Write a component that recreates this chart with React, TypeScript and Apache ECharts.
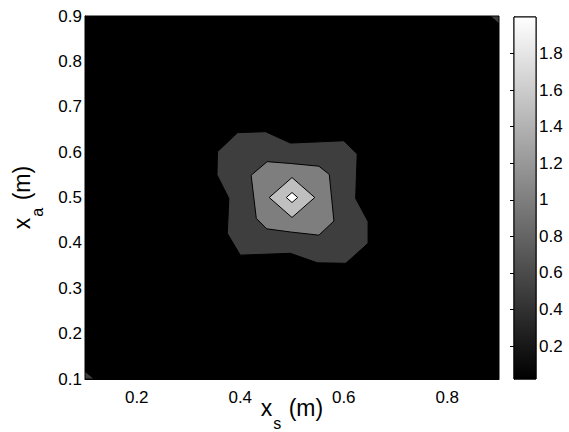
import React, { useEffect, useRef } from 'react';
import * as echarts from 'echarts';

// ---- axis ranges & ticks ----
const xRange = [0.1, 0.9];
const yRange = [0.1, 0.9];
const xTicks = [0.2, 0.4, 0.6, 0.8];
const yTicks = [0.1, 0.2, 0.3, 0.4, 0.5, 0.6, 0.7, 0.8, 0.9];

// ---- colorbar ----
const cbRange = [0.02, 2.0];
const cbTicks = [0.2, 0.4, 0.6, 0.8, 1, 1.2, 1.4, 1.6, 1.8];

// ---- contour levels (filled regions, value = lower bound of the band) ----
const baseLevel = 0;
const level1 = 0.5;
const level2 = 1.0;
const level3 = 1.5;
const level4 = 2.0;

// contour polygons [x_s, x_a]
const domain: number[][] = [
  [0.1, 0.1], [0.9, 0.1], [0.9, 0.9], [0.1, 0.9],
];
const contour05: number[][] = [
  [0.395, 0.643], [0.449, 0.645], [0.497, 0.62], [0.6, 0.625], [0.626, 0.596],
  [0.623, 0.498], [0.647, 0.447], [0.647, 0.399], [0.604, 0.355], [0.549, 0.356],
  [0.497, 0.377], [0.4, 0.373], [0.375, 0.421], [0.378, 0.498], [0.355, 0.55],
  [0.356, 0.601],
];
const corner05TopRight: number[][] = [[0.883, 0.9], [0.9, 0.9], [0.9, 0.883]];
const corner05BottomLeft: number[][] = [[0.1, 0.117], [0.1, 0.1], [0.118, 0.1]];
const contour10: number[][] = [
  [0.452, 0.579], [0.497, 0.575], [0.552, 0.569], [0.572, 0.551], [0.581, 0.448],
  [0.552, 0.417], [0.497, 0.424], [0.451, 0.431], [0.431, 0.454], [0.421, 0.549],
];
const contour15: number[][] = [[0.5, 0.544], [0.544, 0.5], [0.5, 0.456], [0.456, 0.5]];
const contour20: number[][] = [[0.5, 0.511], [0.511, 0.5], [0.5, 0.489], [0.489, 0.5]];

const polygons = [
  { level: baseLevel, pts: domain },
  { level: level1, pts: contour05 },
  { level: level1, pts: corner05TopRight },
  { level: level1, pts: corner05BottomLeft },
  { level: level2, pts: contour10 },
  { level: level3, pts: contour15 },
  { level: level4, pts: contour20 },
];

const FONT = 'Liberation Sans';

function grayOf(v: number): string {
  let t = (v - cbRange[0]) / (cbRange[1] - cbRange[0]);
  t = Math.max(0, Math.min(1, t));
  const g = Math.round(t * 255);
  return `rgb(${g},${g},${g})`;
}

const titleRich = {
  m: { fontFamily: FONT, fontSize: 23, verticalAlign: 'top', color: '#000' },
  s: {
    fontFamily: FONT, fontSize: 16, verticalAlign: 'bottom',
    padding: [19, 1, 0, 1], color: '#000',
  },
};

export default function App() {
  const ref = useRef<HTMLDivElement>(null);
  useEffect(() => {
    if (!ref.current) return;
    const chart = echarts.init(ref.current, null, { renderer: 'svg' });
    const labelStyle = { fontFamily: FONT, fontSize: 17, color: '#000' };
    chart.setOption({
      animation: false,
      backgroundColor: '#fff',
      grid: [
        {
          left: 85, top: 16, width: 414, height: 363, show: true, backgroundColor: '#000',
          borderColor: '#000', borderWidth: 1, containLabel: false, outerBoundsMode: 'none',
        },
        {
          left: 514, top: 17, width: 22, height: 362, show: true, borderColor: '#000',
          borderWidth: 1, containLabel: false, outerBoundsMode: 'none',
        },
      ],
      xAxis: [
        {
          gridIndex: 0, type: 'value', min: xRange[0], max: xRange[1],
          axisLine: { show: true, lineStyle: { color: '#000' } },
          axisTick: { show: true, inside: true, length: 5, customValues: xTicks, lineStyle: { color: '#000' } },
          axisLabel: { ...labelStyle, margin: 10, customValues: xTicks },
          splitLine: { show: false },
          name: '{m|x}{s|s}{m| (m)}',
          nameLocation: 'middle',
          nameGap: 17,
          nameMoveOverlap: false,
          nameTextStyle: { rich: titleRich },
        },
        {
          gridIndex: 1, type: 'value', min: 0, max: 1, show: false,
        },
      ],
      yAxis: [
        {
          gridIndex: 0, type: 'value', min: yRange[0], max: yRange[1],
          axisLine: { show: true, lineStyle: { color: '#000' } },
          axisTick: { show: true, inside: true, length: 5, customValues: yTicks, lineStyle: { color: '#000' } },
          axisLabel: { ...labelStyle, margin: 3, customValues: yTicks },
          splitLine: { show: false },
          name: '{m|x}{s|a}{m| (m)}',
          nameLocation: 'middle',
          nameGap: 40,
          nameMoveOverlap: false,
          nameTextStyle: { rich: titleRich },
        },
        {
          gridIndex: 1, type: 'value', min: cbRange[0], max: cbRange[1], position: 'right',
          axisLine: { show: true, lineStyle: { color: '#000' } },
          axisTick: { show: true, inside: true, length: 4, customValues: cbTicks, lineStyle: { color: '#000' } },
          axisLabel: { ...labelStyle, margin: 3, customValues: cbTicks },
          splitLine: { show: false },
        },
        {
          gridIndex: 1, type: 'value', min: cbRange[0], max: cbRange[1], position: 'left',
          axisLine: { show: true, lineStyle: { color: '#000' } },
          axisTick: { show: true, inside: true, length: 4, customValues: cbTicks, lineStyle: { color: '#000' } },
          axisLabel: { show: false },
          splitLine: { show: false },
        },
      ],
      series: [
        {
          type: 'custom',
          xAxisIndex: 0,
          yAxisIndex: 0,
          clip: true,
          data: polygons.map((p, i) => [i, p.level]),
          renderItem: (params: any, api: any) => {
            const poly = polygons[params.dataIndex];
            const points = poly.pts.map((pt) => api.coord(pt));
            return {
              type: 'polygon',
              shape: { points },
              style: {
                fill: grayOf(poly.level),
                stroke: poly.level > baseLevel ? '#000' : 'none',
                lineWidth: 1,
              },
            };
          },
        },
        {
          type: 'custom',
          xAxisIndex: 1,
          yAxisIndex: 1,
          data: [[0, cbRange[1]]],
          renderItem: (params: any, api: any) => {
            const tl = api.coord([0, cbRange[1]]);
            const br = api.coord([1, cbRange[0]]);
            return {
              type: 'rect',
              shape: { x: tl[0], y: tl[1], width: br[0] - tl[0], height: br[1] - tl[1] },
              style: {
                fill: new echarts.graphic.LinearGradient(0, 0, 0, 1, [
                  { offset: 0, color: grayOf(cbRange[1]) },
                  { offset: 1, color: grayOf(cbRange[0]) },
                ]),
                stroke: '#000',
                lineWidth: 1,
              },
            };
          },
          z: 1,
        },
      ],
    });
    return () => chart.dispose();
  }, []);
  return (
    <div
      ref={ref}
      style={{ position: 'absolute', left: 0, top: 0, width: 569, height: 432 }}
    />
  );
}
